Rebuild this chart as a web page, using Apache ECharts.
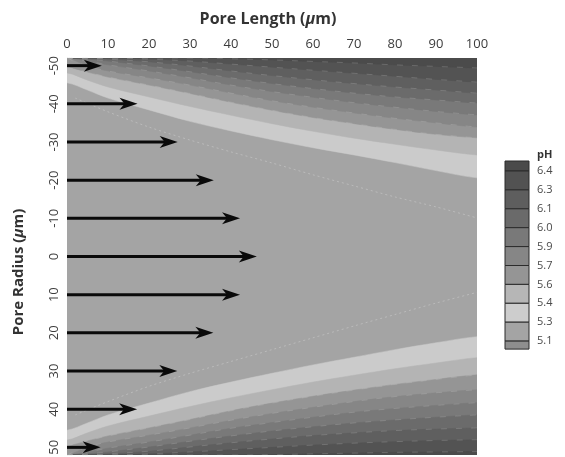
<!DOCTYPE html>
<html>
<head>
<meta charset="utf-8">
<script src="https://cdn.jsdelivr.net/npm/echarts@6/dist/echarts.min.js"></script>
<style>
  html, body { margin: 0; padding: 0; background: #ffffff; }
  #chart { width: 565px; height: 457px; }
</style>
</head>
<body>
<div id="chart"></div>
<script>
// Axial stations along the pore (µm) at which contour radii are tabulated
const poreLength = [0, 5, 10, 20, 30, 40, 50, 60, 70, 80, 90, 100];

// pH contour levels, from the bulk value outward to the walls
const phLevels = ['5.3', '5.4', '5.6', '5.7', '5.9', '6.0', '6.1', '6.3', '6.4'];

// Radial position (µm) of each pH contour next to the upper wall (negative radius)
const upper53 = [-45.5, -43.6, -41.5, -38.4, -35.4, -32.9, -30.6, -28.5, -26.6, -24.6, -22.5, -20.6];
const upper54 = [-48.1, -46.2, -44.4, -41.8, -39.3, -37.0, -34.8, -32.8, -31.0, -29.4, -27.9, -26.6];
const upper56 = [-49.6, -48.3, -47.0, -44.9, -42.7, -40.4, -38.3, -36.4, -34.8, -33.3, -32.0, -31.1];
const upper57 = [-52.0, -49.9, -48.6, -46.8, -44.9, -42.8, -40.8, -39.1, -37.6, -36.2, -35.0, -33.9];
const upper59 = [-52.0, -51.2, -50.2, -48.6, -46.8, -44.9, -43.2, -41.7, -40.3, -39.1, -38.0, -37.1];
const upper60 = [-52.0, -51.7, -51.2, -49.9, -48.4, -46.8, -45.3, -44.0, -42.8, -41.8, -41.0, -40.2];
const upper61 = [-52.0, -52.0, -51.7, -51.0, -49.9, -48.6, -47.4, -46.3, -45.3, -44.4, -43.6, -42.8];
const upper63 = [-52.0, -52.0, -52.0, -51.7, -51.2, -50.4, -49.6, -48.8, -48.0, -47.2, -46.4, -45.7];
const upper64 = [-52.0, -52.0, -52.0, -52.0, -52.0, -51.8, -51.5, -51.1, -50.7, -50.2, -49.8, -49.4];

// Radial position (µm) of each pH contour next to the lower wall (positive radius)
const lower53 = [45.5, 43.6, 41.5, 38.4, 35.4, 32.9, 30.6, 28.4, 26.4, 24.4, 22.6, 21.0];
const lower54 = [48.1, 46.2, 44.4, 41.8, 39.3, 37.0, 34.9, 32.9, 31.1, 29.4, 27.9, 26.5];
const lower56 = [49.6, 48.3, 47.0, 44.9, 42.7, 40.4, 38.4, 36.6, 35.0, 33.5, 32.2, 31.0];
const lower57 = [52.0, 49.9, 48.6, 46.8, 44.9, 42.9, 41.1, 39.5, 38.0, 36.7, 35.7, 34.9];
const lower59 = [52.0, 51.2, 50.2, 48.6, 46.8, 45.0, 43.5, 42.1, 40.8, 39.8, 39.0, 38.3];
const lower60 = [52.0, 51.7, 51.2, 49.9, 48.4, 47.0, 45.7, 44.6, 43.6, 42.8, 42.1, 41.5];
const lower61 = [52.0, 52.0, 51.7, 51.0, 49.9, 48.8, 47.8, 46.9, 46.2, 45.6, 45.2, 44.9];
const lower63 = [52.0, 52.0, 52.0, 51.7, 51.2, 50.6, 50.0, 49.4, 48.9, 48.5, 48.2, 48.0];
const lower64 = [52.0, 52.0, 52.0, 52.0, 52.0, 52.0, 51.9, 51.7, 51.5, 51.3, 51.2, 51.1];

// Faint innermost (pH 5.1) contour across the core of the flow
const coreLength = [2, 10, 20, 30, 40, 50, 60, 70, 80, 90, 100];
const upper51 = [-41.5, -37.9, -33.9, -30.5, -27.4, -24.5, -21.4, -18.5, -15.6, -13.0, -10.1];
const lower51 = [41.5, 38.0, 34.0, 30.6, 27.5, 24.4, 21.3, 18.2, 15.2, 12.2, 9.4];

// Velocity arrows: radial position (µm) and arrow length along the pore (µm)
const arrowRadius = [-50, -40, -30, -20, -10, 0, 10, 20, 30, 40, 50];
const arrowLength = [8.5, 17.2, 27.0, 35.8, 42.2, 46.3, 42.2, 35.7, 26.9, 17.1, 8.2];

// Axis ticks
const lengthTicks = [0, 10, 20, 30, 40, 50, 60, 70, 80, 90, 100];
const radiusTicks = [-50, -40, -30, -20, -10, 0, 10, 20, 30, 40, 50];

// Colour scale: labels sit on the boundaries between swatches
const legendLabels = ['6.4', '6.3', '6.1', '6.0', '5.9', '5.7', '5.6', '5.4', '5.3', '5.1'];
const legendColors = ['#4a4a4a', '#525252', '#5e5e5e', '#6a6a6a', '#797979', '#868686',
                      '#959595', '#b6b6b6', '#cdcdcd', '#a4a4a4', '#8e8e8e'];

// Fill used between a contour and the wall (darker side of each level)
const bandColors = ['#cbcbcb', '#b4b4b4', '#959595', '#868686', '#797979',
                    '#6b6b6b', '#5f5f5f', '#535353', '#4b4b4b'];
const coreColor = '#a4a4a4';

const upperBounds = [upper53, upper54, upper56, upper57, upper59, upper60, upper61, upper63, upper64];
const lowerBounds = [lower53, lower54, lower56, lower57, lower59, lower60, lower61, lower63, lower64];

const Y_MIN = -52, Y_MAX = 52;
const FONT = '"Open Sans", "Noto Sans", sans-serif';

// Filled region between one contour and its wall; the closing corners are pushed
// outside the clipped plot so the smoothed contour edge stays clean.
function bandSeries(bounds, wallEdge, name) {
  const outward = wallEdge < 0 ? -40 : 40;
  return {
    type: 'custom',
    name: name,
    coordinateSystem: 'cartesian2d',
    clip: true,
    silent: true,
    z: 1,
    data: phLevels.map(function (lv, i) { return [0, bounds[i][0], i]; }),
    renderItem: function (params, api) {
      const i = params.dataIndex;
      const b = bounds[i];
      const pts = poreLength.map(function (x, j) { return api.coord([x, b[j]]); });
      const first = pts[0], lastP = pts[pts.length - 1];
      const wallR = api.coord([100, wallEdge]), wallL = api.coord([0, wallEdge]);
      const poly = [[first[0] - 25, first[1]]].concat(pts, [
        [lastP[0] + 25, lastP[1]],
        [wallR[0] + 40, wallR[1] + outward],
        [wallL[0] - 40, wallL[1] + outward]
      ]);
      return {
        type: 'polygon',
        shape: { points: poly, smooth: 0.35 },
        style: { fill: bandColors[i], stroke: bandColors[i], lineWidth: 0.5 }
      };
    }
  };
}

// Faint streaks that run along the darker contours near the walls
function streakSeries(bounds, idxFrom) {
  return bounds.slice(idxFrom).map(function (b) {
    return {
      type: 'line',
      silent: true,
      showSymbol: false,
      smooth: 0.35,
      z: 2,
      data: poreLength.map(function (x, j) { return [x, b[j]]; }),
      lineStyle: { color: '#d8d8d8', width: 1, type: [6, 9], opacity: 0.22 }
    };
  });
}

function contourLine(xs, ys) {
  return {
    type: 'line',
    silent: true,
    showSymbol: false,
    smooth: 0.3,
    z: 3,
    data: xs.map(function (x, j) { return [x, ys[j]]; }),
    lineStyle: { color: '#bdbdbd', width: 1, type: [2, 3], opacity: 0.9 }
  };
}

const arrowSeries = {
  type: 'custom',
  coordinateSystem: 'cartesian2d',
  silent: true,
  clip: false,
  z: 5,
  data: arrowRadius.map(function (r, i) { return [arrowLength[i], r]; }),
  renderItem: function (params, api) {
    const tip = api.coord([api.value(0), api.value(1)]);
    const start = api.coord([0, api.value(1)]);
    const headLen = 18, headHalf = 6, notch = 5;
    return {
      type: 'group',
      children: [
        {
          type: 'line',
          shape: { x1: start[0], y1: start[1], x2: tip[0] - headLen + notch + 1, y2: tip[1] },
          style: { stroke: '#0a0a0a', lineWidth: 3 }
        },
        {
          type: 'polygon',
          shape: {
            points: [
              [tip[0], tip[1]],
              [tip[0] - headLen, tip[1] - headHalf],
              [tip[0] - headLen + notch, tip[1]],
              [tip[0] - headLen, tip[1] + headHalf]
            ]
          },
          style: { fill: '#0a0a0a' }
        }
      ]
    };
  }
};

// Colour bar drawn as stacked swatches
const legendGraphics = [];
(function () {
  const x0 = 505, w = 24, top = 161, first = 10, step = 18.9, last = 8;
  const edges = [top];
  for (let k = 0; k < legendLabels.length; k++) edges.push(top + first + k * step);
  edges.push(edges[edges.length - 1] + last);
  for (let k = 0; k < legendColors.length; k++) {
    legendGraphics.push({
      type: 'rect',
      shape: { x: x0, y: edges[k], width: w, height: edges[k + 1] - edges[k] },
      style: { fill: legendColors[k], stroke: '#2b2b2b', lineWidth: 1 }
    });
  }
  legendLabels.forEach(function (t, k) {
    legendGraphics.push({
      type: 'text',
      x: x0 + w + 8, y: edges[k + 1],
      style: { text: t, fill: '#4a4a4a', font: '11px ' + FONT, verticalAlign: 'middle', align: 'left' }
    });
  });
  legendGraphics.push({
    type: 'text',
    x: x0 + w + 8, y: top - 6,
    style: { text: 'pH', fill: '#333', font: 'bold 11px ' + FONT, verticalAlign: 'middle', align: 'left' }
  });
})();

const chart = echarts.init(document.getElementById('chart'), null, { renderer: 'canvas' });

chart.setOption({
  animation: false,
  backgroundColor: '#ffffff',
  grid: {
    left: 67, top: 58, width: 410, height: 397,
    outerBoundsMode: 'none',
    containLabel: false,
    show: true, backgroundColor: coreColor, borderWidth: 0
  },
  xAxis: {
    type: 'value',
    position: 'top',
    min: 0, max: 100, interval: 10,
    axisLine: { show: false },
    axisTick: { show: false },
    splitLine: { show: false },
    axisLabel: {
      margin: 7, color: '#3c3c3c', fontFamily: FONT, fontSize: 13,
      formatter: function (v) { return lengthTicks.indexOf(v) >= 0 ? String(v) : ''; }
    }
  },
  yAxis: {
    type: 'value',
    inverse: true,
    min: Y_MIN, max: Y_MAX, interval: 2,
    axisLine: { show: false },
    axisTick: { show: false },
    splitLine: { show: false },
    axisLabel: {
      rotate: 90, margin: 6, color: '#3c3c3c', fontFamily: FONT, fontSize: 13,
      showMinLabel: false, showMaxLabel: false,
      formatter: function (v) { return radiusTicks.indexOf(v) >= 0 ? String(v) : ''; }
    }
  },
  graphic: legendGraphics.concat([
    {
      type: 'text',
      x: 268, y: 19,
      style: {
        text: 'Pore Length ({mu|μ}m)',
        fill: '#333', font: 'bold 16px ' + FONT, align: 'center', verticalAlign: 'middle',
        rich: { mu: { fontStyle: 'italic', fontWeight: 'bold', fontSize: 16, fontFamily: FONT, fill: '#333' } }
      }
    },
    {
      type: 'text',
      x: 19, y: 272, rotation: Math.PI / 2,
      style: {
        text: 'Pore Radius ({mu|μ}m)',
        fill: '#333', font: 'bold 15px ' + FONT, align: 'center', verticalAlign: 'middle',
        rich: { mu: { fontStyle: 'italic', fontWeight: 'bold', fontSize: 15, fontFamily: FONT, fill: '#333' } }
      }
    }
  ]),
  series: [
    bandSeries(upperBounds, Y_MIN, 'upper wall'),
    bandSeries(lowerBounds, Y_MAX, 'lower wall')
  ].concat(
    streakSeries(upperBounds, 2),
    streakSeries(lowerBounds, 2),
    [
      contourLine(coreLength, upper51),
      contourLine(coreLength, lower51),
      arrowSeries
    ]
  )
});
</script>
</body>
</html>
